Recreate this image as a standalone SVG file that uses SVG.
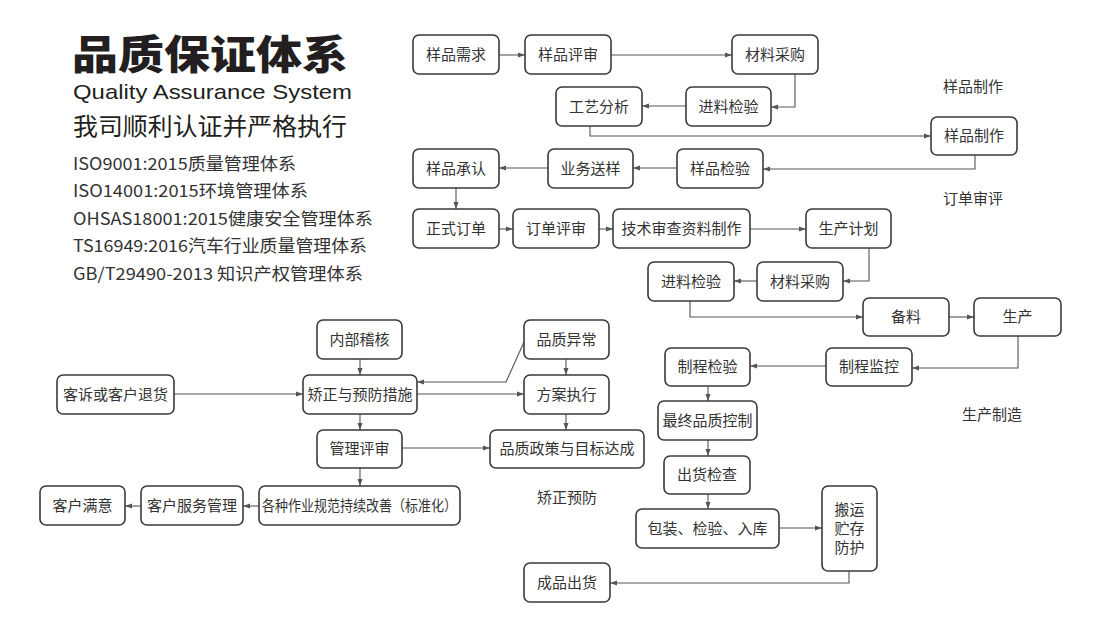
<svg xmlns="http://www.w3.org/2000/svg" width="1100" height="631" viewBox="0 0 1100 631">
<style>
text{font-family:"Noto Sans CJK SC","Noto Sans",sans-serif;fill:#333}
.box{fill:#fff;stroke:#3a3a3a;stroke-width:1.6}
.t{font-size:15px;text-anchor:middle}
.lab{font-size:15px;text-anchor:middle}
.c path{fill:none;stroke:#555;stroke-width:1.1;marker-end:url(#ah)}
.cert{font-size:17px}
</style>
<defs>
<marker id="ah" markerUnits="userSpaceOnUse" markerWidth="8" markerHeight="6" refX="7" refY="3" orient="auto">
<path d="M0,0.5 L7,3 L0,5.5 z" fill="#555"/>
</marker>
</defs>
<rect width="1100" height="631" fill="#fff"/>
<g id="title">
<text x="72" y="69" style="font-size:40px;font-weight:900;fill:#231f20" textLength="276" lengthAdjust="spacingAndGlyphs">品质保证体系</text>
<text x="73" y="99" style="font-family:'Liberation Sans',sans-serif;font-size:21px;fill:#231f20" textLength="279" lengthAdjust="spacingAndGlyphs">Quality Assurance System</text>
<text x="73" y="135" style="font-size:24px;fill:#231f20" textLength="274" lengthAdjust="spacingAndGlyphs">我司顺利认证并严格执行</text>
<text class="cert" x="73" y="170" textLength="223" lengthAdjust="spacingAndGlyphs">ISO9001:2015质量管理体系</text>
<text class="cert" x="73" y="197" textLength="235" lengthAdjust="spacingAndGlyphs">ISO14001:2015环境管理体系</text>
<text class="cert" x="73" y="225" textLength="300" lengthAdjust="spacingAndGlyphs">OHSAS18001:2015健康安全管理体系</text>
<text class="cert" x="73" y="252" textLength="294" lengthAdjust="spacingAndGlyphs">TS16949:2016汽车行业质量管理体系</text>
<text class="cert" x="73" y="280" textLength="290" lengthAdjust="spacingAndGlyphs">GB/T29490-2013 知识产权管理体系</text>
</g>
<g id="labels">
<text class="lab" x="973" y="92">样品制作</text>
<text class="lab" x="973" y="204">订单审评</text>
<text class="lab" x="992" y="420">生产制造</text>
<text class="lab" x="567" y="503">矫正预防</text>
</g>
<g class="c" id="connectors">
<path d="M499,55 H525"/>
<path d="M611,55 H732"/>
<path d="M795,74 V107 H771"/>
<path d="M686,106 H642"/>
<path d="M590,126 V136 H931"/>
<path d="M975,155 V169 H763"/>
<path d="M677,168 H633"/>
<path d="M548,168 H499"/>
<path d="M456,188 V209"/>
<path d="M499,229 H513"/>
<path d="M599,229 H613"/>
<path d="M750,229 H806"/>
<path d="M869,248 V281 H843"/>
<path d="M757,281 H734"/>
<path d="M690,301 V317 H863"/>
<path d="M949,317 H974"/>
<path d="M1018,336 V368 H912"/>
<path d="M826,366 H750"/>
<path d="M708,386 V401"/>
<path d="M708,440 V456"/>
<path d="M708,494 V509"/>
<path d="M779,528 H822"/>
<path d="M849,571 V583 H610"/>
<path d="M360,359 V375"/>
<path d="M360,414 V430"/>
<path d="M360,468 V486"/>
<path d="M259,506 H243"/>
<path d="M141,506 H125"/>
<path d="M174,394 H303"/>
<path d="M524,342 L506,382 H417"/>
<path d="M417,394 H524"/>
<path d="M566,359 V375"/>
<path d="M566,414 V430"/>
<path d="M402,448 H490"/>
</g>
<g id="n1"><rect class="box" x="413" y="35" width="86" height="39" rx="6"/><text class="t" x="456" y="60">样品需求</text></g>
<g id="n2"><rect class="box" x="525" y="35" width="86" height="39" rx="6"/><text class="t" x="568" y="60">样品评审</text></g>
<g id="n3"><rect class="box" x="732" y="35" width="86" height="39" rx="6"/><text class="t" x="775" y="60">材料采购</text></g>
<g id="n4"><rect class="box" x="556" y="87" width="86" height="39" rx="6"/><text class="t" x="599" y="112">工艺分析</text></g>
<g id="n5"><rect class="box" x="686" y="87" width="85" height="39" rx="6"/><text class="t" x="728.5" y="112">进料检验</text></g>
<g id="n6"><rect class="box" x="931" y="117" width="86" height="38" rx="6"/><text class="t" x="974" y="141">样品制作</text></g>
<g id="n7"><rect class="box" x="677" y="149" width="86" height="39" rx="6"/><text class="t" x="720" y="174">样品检验</text></g>
<g id="n8"><rect class="box" x="548" y="149" width="85" height="39" rx="6"/><text class="t" x="590.5" y="174">业务送样</text></g>
<g id="n9"><rect class="box" x="413" y="149" width="86" height="39" rx="6"/><text class="t" x="456" y="174">样品承认</text></g>
<g id="n10"><rect class="box" x="413" y="209" width="86" height="39" rx="6"/><text class="t" x="456" y="234">正式订单</text></g>
<g id="n11"><rect class="box" x="513" y="209" width="86" height="39" rx="6"/><text class="t" x="556" y="234">订单评审</text></g>
<g id="n12"><rect class="box" x="613" y="209" width="137" height="39" rx="6"/><text class="t" x="681.5" y="234">技术审查资料制作</text></g>
<g id="n13"><rect class="box" x="806" y="209" width="85" height="39" rx="6"/><text class="t" x="848.5" y="234">生产计划</text></g>
<g id="n14"><rect class="box" x="757" y="262" width="86" height="39" rx="6"/><text class="t" x="800" y="287">材料采购</text></g>
<g id="n15"><rect class="box" x="648" y="262" width="86" height="39" rx="6"/><text class="t" x="691" y="287">进料检验</text></g>
<g id="n16"><rect class="box" x="863" y="298" width="86" height="38" rx="6"/><text class="t" x="906" y="322">备料</text></g>
<g id="n17"><rect class="box" x="974" y="298" width="87" height="38" rx="6"/><text class="t" x="1017.5" y="322">生产</text></g>
<g id="n18"><rect class="box" x="826" y="348" width="86" height="38" rx="6"/><text class="t" x="869" y="372">制程监控</text></g>
<g id="n19"><rect class="box" x="665" y="348" width="85" height="38" rx="6"/><text class="t" x="707.5" y="372">制程检验</text></g>
<g id="n20"><rect class="box" x="658" y="401" width="99" height="39" rx="6"/><text class="t" x="707.5" y="426">最终品质控制</text></g>
<g id="n21"><rect class="box" x="664" y="456" width="86" height="38" rx="6"/><text class="t" x="707" y="480">出货检查</text></g>
<g id="n22"><rect class="box" x="636" y="509" width="143" height="39" rx="6"/><text class="t" x="707.5" y="534">包装、检验、入库</text></g>
<g id="n23"><rect class="box" x="822" y="486" width="55" height="85" rx="6"/><text class="t" x="849.5" y="515">搬运</text><text class="t" x="849.5" y="534">贮存</text><text class="t" x="849.5" y="553">防护</text></g>
<g id="n24"><rect class="box" x="524" y="563" width="86" height="39" rx="6"/><text class="t" x="567" y="588">成品出货</text></g>
<g id="n25"><rect class="box" x="317" y="320" width="85" height="39" rx="6"/><text class="t" x="359.5" y="345">内部稽核</text></g>
<g id="n26"><rect class="box" x="303" y="375" width="114" height="39" rx="6"/><text class="t" x="360" y="400">矫正与预防措施</text></g>
<g id="n27"><rect class="box" x="317" y="430" width="85" height="38" rx="6"/><text class="t" x="359.5" y="454">管理评审</text></g>
<g id="n28"><rect class="box" x="259" y="486" width="201" height="39" rx="6"/><text class="t" x="359.5" y="511" textLength="195" lengthAdjust="spacingAndGlyphs">各种作业规范持续改善（标准化）</text></g>
<g id="n29"><rect class="box" x="141" y="486" width="102" height="39" rx="6"/><text class="t" x="192" y="511">客户服务管理</text></g>
<g id="n30"><rect class="box" x="40" y="486" width="85" height="39" rx="6"/><text class="t" x="82.5" y="511">客户满意</text></g>
<g id="n31"><rect class="box" x="57" y="375" width="117" height="39" rx="6"/><text class="t" x="115.5" y="400">客诉或客户退货</text></g>
<g id="n32"><rect class="box" x="524" y="320" width="85" height="39" rx="6"/><text class="t" x="566.5" y="345">品质异常</text></g>
<g id="n33"><rect class="box" x="524" y="375" width="85" height="39" rx="6"/><text class="t" x="566.5" y="400">方案执行</text></g>
<g id="n34"><rect class="box" x="490" y="430" width="154" height="38" rx="6"/><text class="t" x="567" y="454">品质政策与目标达成</text></g>
</svg>
